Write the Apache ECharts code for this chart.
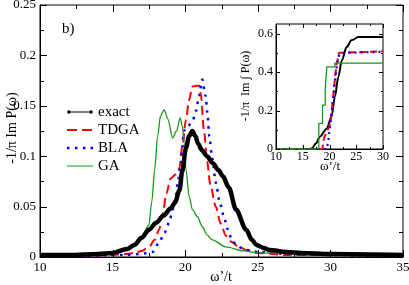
<!DOCTYPE html>
<html><head><meta charset="utf-8">
<script src="https://cdn.jsdelivr.net/npm/echarts@6/dist/echarts.min.js"></script>
<style>html,body{margin:0;padding:0;background:#fff}#c{width:409px;height:285px}</style>
</head><body><div id="c"></div>
<script>
// ---- main panel data ----
const exactX = [10,12,14,15,16,16.5,17,17.5,18,18.5,19,19.3,19.6,19.8,20.05,20.27,20.5,20.7,20.9,21.15,21.5,21.9,22.3,22.6,23.0,23.5,24.2,24.6,24.9,25.4,25.8,27,28,30,35];
const exactY = [0.002,0.002,0.003,0.004,0.008,0.012,0.019,0.027,0.034,0.041,0.048,0.054,0.066,0.085,0.108,0.12,0.125,0.12,0.112,0.106,0.1,0.093,0.086,0.08,0.069,0.047,0.027,0.017,0.012,0.009,0.007,0.005,0.004,0.003,0.002];

const tdgaX = [10,13,15,16,16.5,17,17.5,17.9,18.2,18.45,18.7,19.0,19.35,19.6,19.8,20.05,20.27,20.5,20.75,20.96,21.07,21.3,21.5,21.75,22.1,22.45,22.8,23.2,23.6,24.2,25,27,30,35];
const tdgaY = [0.001,0.001,0.002,0.003,0.004,0.006,0.01,0.017,0.027,0.043,0.063,0.078,0.082,0.088,0.11,0.136,0.156,0.169,0.17,0.17,0.162,0.125,0.095,0.07,0.05,0.033,0.021,0.015,0.011,0.007,0.004,0.002,0.002,0.001];

const blaX = [10,13,15,16,17,17.4,17.76,18.2,18.56,18.9,19.13,19.36,19.5,19.7,19.8,19.9,20.2,20.5,20.75,20.95,21.18,21.4,21.55,21.65,21.87,22.1,22.4,22.7,22.9,23.2,23.5,24.0,24.5,25,27,30,35];
const blaY = [0.001,0.001,0.002,0.002,0.003,0.004,0.005,0.014,0.024,0.034,0.047,0.06,0.075,0.093,0.108,0.125,0.13,0.135,0.145,0.16,0.176,0.16,0.14,0.12,0.098,0.074,0.053,0.038,0.028,0.018,0.012,0.008,0.006,0.005,0.003,0.002,0.001];

const gaX = [10,13,15,16,16.5,17,17.5,17.7,17.9,18.1,18.3,18.56,18.8,19.13,19.4,19.66,19.8,19.93,20.05,20.27,20.5,20.84,21.18,21.5,21.87,22.8,24,25,30,35];
const gaY = [0.001,0.002,0.003,0.007,0.011,0.018,0.032,0.055,0.087,0.12,0.14,0.146,0.137,0.118,0.125,0.138,0.13,0.113,0.087,0.06,0.047,0.04,0.03,0.022,0.017,0.01,0.006,0.004,0.002,0.001];

// ---- inset data (integrated weight) ----
const iExactX = [10,16.3,16.7,17.5,18.2,19.5,20.4,21.0,21.65,22.3,23.2,24.1,25.4,30];
const iExactY = [0,0,0.004,0.03,0.064,0.107,0.17,0.27,0.375,0.46,0.53,0.565,0.582,0.582];
const iTdgaX = [10,18.7,18.8,19.0,19.5,20.0,20.3,20.6,21.0,21.3,21.5,21.7,21.75,22.0,30];
const iTdgaY = [0,0,0.03,0.06,0.09,0.12,0.16,0.25,0.36,0.44,0.46,0.46,0.5,0.508,0.508];
const iBlaX = [10,19.5,19.8,20.0,20.3,20.6,21.0,21.4,21.8,22.2,22.5,30];
const iBlaY = [0,0,0.05,0.1,0.16,0.24,0.35,0.44,0.49,0.5,0.505,0.505];
const iGaX = [10,18.0,18.0,18.7,18.7,19.2,19.2,19.5,19.5,21.0,21.0,30];
const iGaY = [0,0,0.133,0.133,0.228,0.228,0.314,0.314,0.427,0.427,0.447,0.447];

// ---- tick values ----
const xTicksMain = [10,15,20,25,30,35];
const xMinorMain = [12.5,17.5,22.5,27.5,32.5];
const yTicksMain = [0,0.05,0.1,0.15,0.2,0.25];
const yMinorMain = [0.025,0.075,0.125,0.175,0.225];
const xTicksInset = [10,15,20,25,30];
const xMinorInset = [12.5,17.5,22.5,27.5];
const yTicksInset = [0,0.2,0.4,0.6];
const yMinorInset = [0.1,0.3,0.5];

const seriesNames = ['exact','TDGA','BLA','GA'];

function pts(xs, ys){ return xs.map((x,i)=>[x,ys[i]]); }

const FONT = 'Liberation Serif';
const BLACK = '#000';
const RED = '#ff0000', BLUE = '#0000ff', GREEN = '#139a13';

function axis(o){
  const a = {
    type:'value', min:o.min, max:o.max, interval:o.interval, position:o.pos,
    axisLine:{show:true,onZero:false,lineStyle:{color:BLACK}},
    axisTick:{show:false},
    splitLine:{show:false},
    axisLabel: o.label ? {show:true,color:BLACK,fontFamily:FONT,fontSize:o.fs,margin:o.margin,showMaxLabel:o.showMax!==false} : {show:false}
  };
  if (o.grid) a.gridIndex = o.grid;
  return a;
}

// tick marks placed through the axes' own scales (api.coord), mirrored on both sides
function tickData(xs, xm, ys, ym, x0, y0, big, small){
  return [].concat(
    xs.map(v=>[v,y0,0,big]), xm.map(v=>[v,y0,0,small]),
    ys.map(v=>[x0,v,1,big]), ym.map(v=>[x0,v,1,small]));
}
function renderTick(params, api){
  const cs = params.coordSys;
  const kind = api.value(2), len = api.value(3);
  const p = api.coord([api.value(0), api.value(1)]);
  const st = {stroke:BLACK, lineWidth:1};
  if (kind === 0){
    const x = Math.round(p[0]) + 0.5, yb = cs.y + cs.height, yt = cs.y;
    return {type:'group', children:[
      {type:'line', shape:{x1:x,y1:yb,x2:x,y2:yb-len}, style:st},
      {type:'line', shape:{x1:x,y1:yt,x2:x,y2:yt+len}, style:st}]};
  }
  const y = Math.round(p[1]) + 0.5, xl = cs.x, xr = cs.x + cs.width;
  return {type:'group', children:[
    {type:'line', shape:{x1:xl,y1:y,x2:xl+len,y2:y}, style:st},
    {type:'line', shape:{x1:xr,y1:y,x2:xr-len,y2:y}, style:st}]};
}

// legend icons (invisible corner specks keep the 26x10 box)
const BOX = 'M0,0 L0.01,0 L0.01,0.01 Z M26,10 L25.99,10 L25.99,9.99 Z ';
const icons = {
  exact: BOX + 'M3.8,4.4 L22.2,4.4 L22.2,5.6 L3.8,5.6 Z M0.2,5 a1.8,1.8 0 1,0 3.6,0 a1.8,1.8 0 1,0 -3.6,0 Z M22.2,5 a1.8,1.8 0 1,0 3.6,0 a1.8,1.8 0 1,0 -3.6,0 Z',
  TDGA: BOX + 'M0,4 L10,4 L10,6 L0,6 Z M15,4 L25,4 L25,6 L15,6 Z',
  BLA: BOX + 'M0,3.8 L2.5,3.8 L2.5,6.3 L0,6.3 Z M8,3.8 L10.5,3.8 L10.5,6.3 L8,6.3 Z M16,3.8 L18.5,3.8 L18.5,6.3 L16,6.3 Z M23.5,3.8 L26,3.8 L26,6.3 L23.5,6.3 Z',
  GA: BOX + 'M0,4.4 L26,4.4 L26,5.6 L0,5.6 Z'
};

function label(text, x, y, fs, rot){
  return {type:'text', x:x, y:y, rotation:rot||0, z:20,
    style:{text:text, fontFamily:FONT, fontSize:fs, fill:BLACK, align:'center', verticalAlign:'middle'}};
}

const chart = echarts.init(document.getElementById('c'), null, {renderer:'canvas'});
chart.setOption({
  animation:false,
  backgroundColor:'#fff',
  grid:[
    {left:40,top:5,right:6,bottom:28,show:true,borderColor:BLACK,borderWidth:1,backgroundColor:'transparent',containLabel:false,outerBoundsMode:'none'},
    {left:276,top:24,right:26,bottom:136,show:true,borderColor:BLACK,borderWidth:1,backgroundColor:'transparent',containLabel:false,outerBoundsMode:'none'}
  ],
  legend:{
    orient:'vertical', left:62, top:99, itemWidth:26, itemHeight:10, itemGap:2,
    textStyle:{fontFamily:FONT,fontSize:15,color:BLACK,lineHeight:16},
    data: seriesNames.map(n => ({name:n, icon:'path://' + icons[n]}))
  },
  xAxis:[
    axis({min:10,max:35,interval:5,pos:'bottom',label:true,fs:13,margin:4}),
    axis({grid:1,min:10,max:30,interval:5,pos:'bottom',label:true,fs:12,margin:2})
  ],
  yAxis:[
    axis({min:0,max:0.25,interval:0.05,pos:'left',label:true,fs:13,margin:4}),
    axis({grid:1,min:0,max:0.65,interval:0.2,pos:'left',label:true,fs:12,margin:3,showMax:false})
  ],
  graphic:[
    {type:'text', x:62, y:29, z:20, style:{text:'b)', fontFamily:FONT, fontSize:15, fill:BLACK, align:'left', verticalAlign:'middle'}},
    label('ω’/t', 221, 277, 14, 0),
    label('-1/π Im P(ω)', 12, 128, 14, Math.PI/2),
    label('ω’/t', 330, 167, 13, 0),
    label('-1/π  Im ∫ P(ω)', 246, 86, 12, Math.PI/2)
  ],
  series:[
    {type:'custom',xAxisIndex:0,yAxisIndex:0,silent:true,z:15,clip:false,encode:{x:0,y:1},
      data:tickData(xTicksMain,xMinorMain,yTicksMain,yMinorMain,10,0,7,4),renderItem:renderTick},
    {type:'custom',xAxisIndex:1,yAxisIndex:1,silent:true,z:15,clip:false,encode:{x:0,y:1},
      data:tickData(xTicksInset,xMinorInset,yTicksInset,yMinorInset,10,0,4,2),renderItem:renderTick},

    {name:'exact',type:'line',xAxisIndex:0,yAxisIndex:0,data:pts(exactX,exactY),smooth:0.3,smoothMonotone:'x',
      showSymbol:false,symbol:'none',lineStyle:{color:BLACK,width:4.5},itemStyle:{color:BLACK},z:4},
    {name:'TDGA',type:'line',xAxisIndex:0,yAxisIndex:0,data:pts(tdgaX,tdgaY),smooth:0.3,smoothMonotone:'x',
      showSymbol:false,symbol:'none',lineStyle:{color:RED,width:2,type:[9,5]},itemStyle:{color:RED},z:3},
    {name:'BLA',type:'line',xAxisIndex:0,yAxisIndex:0,data:pts(blaX,blaY),smooth:0.3,smoothMonotone:'x',
      showSymbol:false,symbol:'none',lineStyle:{color:BLUE,width:2.5,type:[2.5,5.5]},itemStyle:{color:BLUE},z:3},
    {name:'GA',type:'line',xAxisIndex:0,yAxisIndex:0,data:pts(gaX,gaY),smooth:0.3,smoothMonotone:'x',
      showSymbol:false,symbol:'none',lineStyle:{color:GREEN,width:1.3},itemStyle:{color:GREEN},z:3},

    {name:'exact',type:'line',xAxisIndex:1,yAxisIndex:1,data:pts(iExactX,iExactY),smooth:0.3,smoothMonotone:'x',
      showSymbol:false,symbol:'none',lineStyle:{color:BLACK,width:2},itemStyle:{color:BLACK},z:10},
    {name:'TDGA',type:'line',xAxisIndex:1,yAxisIndex:1,data:pts(iTdgaX,iTdgaY),
      showSymbol:false,symbol:'none',lineStyle:{color:RED,width:2,type:[7,4]},itemStyle:{color:RED},z:10},
    {name:'BLA',type:'line',xAxisIndex:1,yAxisIndex:1,data:pts(iBlaX,iBlaY),
      showSymbol:false,symbol:'none',lineStyle:{color:BLUE,width:2.2,type:[2,4]},itemStyle:{color:BLUE},z:10},
    {name:'GA',type:'line',xAxisIndex:1,yAxisIndex:1,data:pts(iGaX,iGaY),
      showSymbol:false,symbol:'none',lineStyle:{color:GREEN,width:1.3},itemStyle:{color:GREEN},z:10}
  ]
});
</script></body></html>
